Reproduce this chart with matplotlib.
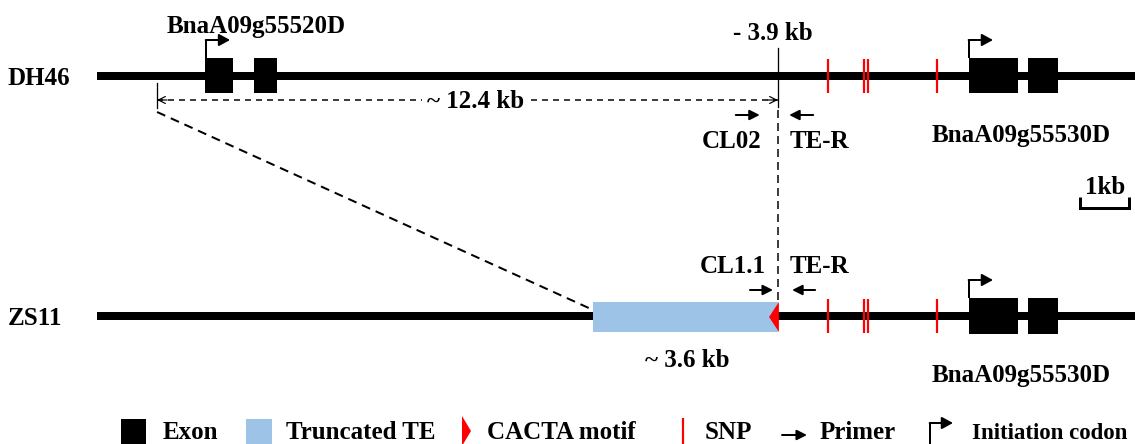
import matplotlib
matplotlib.use('Agg')
import matplotlib.pyplot as plt
from matplotlib.patches import Rectangle, Polygon

# ---------------- data (kb, relative to the BnaA09g55530D initiation codon) ----------------
row_names = ['DH46', 'ZS11']
line_start_kb = -17.8
line_end_kb = 3.5

gene1_name = 'BnaA09g55520D'
gene1_exon_start = [-15.59, -14.59]
gene1_exon_end = [-15.02, -14.12]
gene1_atg = -15.57

gene2_name = 'BnaA09g55530D'
gene2_exon_start = [0.0, 1.2]
gene2_exon_end = [1.0, 1.82]
gene2_atg = 0.0

snp_kb = [-2.88, -2.14, -2.06, -0.65]

insertion_kb = -3.9
insertion_label = '- 3.9 kb'
deletion_start_kb = -16.57
deletion_label = '~ 12.4 kb'
te_start_kb = -7.67
te_label = '~ 3.6 kb'
cacta_width_kb = 0.18

dh46_primer_names = ['CL02', 'TE-R']
dh46_primer_tail = [-4.76, -3.18]
dh46_primer_head = [-4.27, -3.67]
dh46_primer_label_x = [-4.84, -3.06]

zs11_primer_names = ['CL1.1', 'TE-R']
zs11_primer_tail = [-4.47, -3.14]
zs11_primer_head = [-4.0, -3.61]
zs11_primer_label_x = [-4.82, -3.06]

scale_start_kb = 2.27
scale_len_kb = 1.0
scale_label = '1kb'

legend_labels = ['Exon', 'Truncated TE', 'CACTA motif', 'SNP', 'Primer', 'Initiation codon']

# ---------------- styling ----------------
W, H = 1135, 444
PX_PER_KB = 49.0
ORIGIN_PX = 969.0
FONT = dict(family=['Liberation Serif', 'DejaVu Serif'], fontweight='bold', fontsize=18)
TE_COLOR = '#9DC3E6'
RED = '#FF0000'
plt.rcParams['lines.scale_dashes'] = False


def pt(px):
    return px * 72.0 / 100.0


fig = plt.figure(figsize=(W / 100, H / 100), dpi=100)
ax = fig.add_axes([0, 0, 1, 1])
ax.set_xlim((0 - ORIGIN_PX) / PX_PER_KB, (W - ORIGIN_PX) / PX_PER_KB)
ax.set_ylim(H, 0)
ax.axis('off')

axp = fig.add_axes([0, 0, 1, 1])
axp.set_xlim(0, W)
axp.set_ylim(H, 0)
axp.axis('off')
axp.patch.set_alpha(0)

row_y = [76, 316]
EX_TOP, EX_BOT = -18, 17.5
kb_px = 1.0 / PX_PER_KB  # one pixel in kb


def init_arrow(a, x, ytop, ycorner, xtip):
    a.plot([x, x], [ytop, ycorner], color='black', lw=pt(2), solid_capstyle='butt')
    a.annotate('', xy=(xtip, ycorner), xytext=(x - 0.5 * (xtip - x) * 0.03, ycorner),
               arrowprops=dict(arrowstyle='-|>,head_length=0.55,head_width=0.3',
                               mutation_scale=12, lw=pt(2), color='black',
                               shrinkA=0, shrinkB=0))


def primer(a, xt, xh, y):
    a.annotate('', xy=(xh, y), xytext=(xt, y),
               arrowprops=dict(arrowstyle='-|>,head_length=0.5,head_width=0.25',
                               mutation_scale=12, lw=pt(2), color='black',
                               shrinkA=0, shrinkB=0))


for i, (name, y) in enumerate(zip(row_names, row_y)):
    ax.text((8 - ORIGIN_PX) / PX_PER_KB, y + 9, name, ha='left', va='baseline', **FONT)
    ax.plot([line_start_kb, line_end_kb], [y, y], color='black', lw=pt(8),
            solid_capstyle='butt', zorder=2)
    for s, e in zip(gene2_exon_start, gene2_exon_end):
        ax.add_patch(Rectangle((s, y + EX_TOP), e - s, EX_BOT - EX_TOP,
                               facecolor='black', edgecolor='none', zorder=3))
    init_arrow(ax, gene2_atg, y + EX_TOP, y - 36, gene2_atg + 24 * kb_px)
    ax.text(1.06, y + 66, gene2_name, ha='center', va='baseline', **FONT)
    for s in snp_kb:
        ax.plot([s, s], [y - 17, y + 17], color=RED, lw=pt(2.2), solid_capstyle='butt', zorder=4)

# DH46 specific
y0 = row_y[0]
for s, e in zip(gene1_exon_start, gene1_exon_end):
    ax.add_patch(Rectangle((s, y0 + EX_TOP), e - s, EX_BOT - EX_TOP,
                           facecolor='black', edgecolor='none', zorder=3))
init_arrow(ax, gene1_atg, y0 + EX_TOP, y0 - 36, gene1_atg + 24 * kb_px)
ax.text(-14.55, 33, gene1_name, ha='center', va='baseline', **FONT)

# insertion site
ax.text(insertion_kb - 0.1, 40, insertion_label, ha='center', va='baseline', **FONT)
ax.plot([insertion_kb, insertion_kb], [48, 107], color='black', lw=pt(1.3), zorder=5)
ax.plot([insertion_kb, insertion_kb], [110, 302], color='black', lw=pt(1.5),
        dashes=(pt(8), pt(5)), zorder=1)

# 12.4 kb deletion bracket
ax.plot([deletion_start_kb, deletion_start_kb], [83, 108], color='black', lw=pt(1.3))
ax.plot([deletion_start_kb, insertion_kb], [100, 100], color='black', lw=pt(1.5),
        dashes=(pt(6), pt(5)))
for tip, d in [(deletion_start_kb, 1), (insertion_kb, -1)]:
    ax.annotate('', xy=(tip, 100), xytext=(tip + d * 10 * kb_px, 100),
                arrowprops=dict(arrowstyle='->,head_length=0.5,head_width=0.25',
                                mutation_scale=10, lw=pt(1.2), color='black',
                                shrinkA=0, shrinkB=0))
ax.text(-10.08, 108, deletion_label, ha='center', va='baseline', **FONT,
        bbox=dict(facecolor='white', edgecolor='none', pad=3))
ax.plot([deletion_start_kb, te_start_kb], [112, 310], color='black', lw=pt(2),
        dashes=(pt(9), pt(6)))

# DH46 primers
for nm, xt, xh, xl in zip(dh46_primer_names, dh46_primer_tail, dh46_primer_head, dh46_primer_label_x):
    primer(ax, xt, xh, 115)
    ax.text(xl, 148, nm, ha='center', va='baseline', **FONT)

# ZS11 specific
y1 = row_y[1]
ax.add_patch(Rectangle((te_start_kb, 302), insertion_kb - te_start_kb, 30,
                       facecolor=TE_COLOR, edgecolor='none', zorder=3))
ax.add_patch(Polygon([(insertion_kb + 1 * kb_px, 302), (insertion_kb - cacta_width_kb, y1 + 1),
                      (insertion_kb + 1 * kb_px, 332)], closed=True,
                     facecolor=RED, edgecolor='none', zorder=4))
ax.text(-5.76, 367, te_label, ha='center', va='baseline', **FONT)
for nm, xt, xh, xl in zip(zs11_primer_names, zs11_primer_tail, zs11_primer_head, zs11_primer_label_x):
    primer(ax, xt, xh, 290)
    ax.text(xl, 273, nm, ha='center', va='baseline', **FONT)

# scale bar
sb_end = scale_start_kb + scale_len_kb
ax.plot([scale_start_kb, scale_start_kb, sb_end, sb_end], [197, 208, 208, 197],
        color='black', lw=pt(3), solid_joinstyle='miter', solid_capstyle='butt')
ax.text((scale_start_kb + sb_end) / 2, 194, scale_label, ha='center', va='baseline', **FONT)

# ---------------- legend (pixel layout) ----------------
LY = 439
axp.add_patch(Rectangle((121, 419), 25, 28, facecolor='black', edgecolor='none'))
axp.text(163, LY, legend_labels[0], ha='left', va='baseline', **FONT)
axp.add_patch(Rectangle((246, 419), 26, 28, facecolor=TE_COLOR, edgecolor='none'))
axp.text(286, LY, legend_labels[1], ha='left', va='baseline', **FONT)
axp.add_patch(Polygon([(462, 416), (471, 431), (462, 446)], closed=True,
                      facecolor=RED, edgecolor='none'))
axp.text(487, LY, legend_labels[2], ha='left', va='baseline', **FONT)
axp.plot([683, 683], [418, 446], color=RED, lw=pt(2.2), solid_capstyle='butt')
axp.text(705, LY, legend_labels[3], ha='left', va='baseline', **FONT)
primer(axp, 782, 807, 435)
axp.text(820, LY, legend_labels[4], ha='left', va='baseline', **FONT)
init_arrow(axp, 930, 446, 423, 953)
FONT_LAST = dict(FONT, fontsize=16.5)
axp.text(972, LY, legend_labels[5], ha='left', va='baseline', **FONT_LAST)

fig.savefig('out.png', dpi=100, facecolor='white')
